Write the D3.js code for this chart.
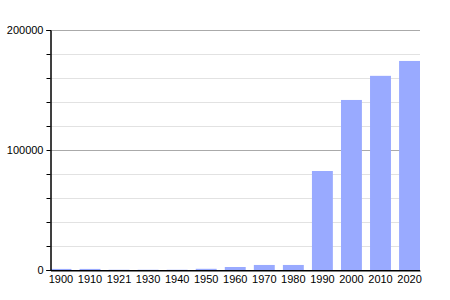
<!DOCTYPE html>
<html>
<head>
<meta charset="utf-8">
<script src="https://cdn.jsdelivr.net/npm/d3@7"></script>
<style>
body { margin: 0; background: #fff; }
svg { font-family: "Liberation Sans", Arial, sans-serif; }
</style>
</head>
<body>
<script>
// population by census year
var years = ["1900", "1910", "1921", "1930", "1940", "1950", "1960", "1970", "1980", "1990", "2000", "2010", "2020"]
var population = [900, 900, 200, 200, 200, 1000, 2500, 4200, 4200, 82500, 141700, 161800, 174200]
var majorTicks = [0, 100000, 200000]
var minorTicks = [20000, 40000, 60000, 80000, 120000, 140000, 160000, 180000]

var svg = d3.select("body").append("svg")
    .attr("width", 450)
    .attr("height", 300)

// plot edges (don't name one "top", that's window.top)
var plotLeft = 50, plotRight = 420, plotTop = 30, plotBottom = 270

var x = d3.scaleBand()
    .domain(years)
    .range([plotLeft + 0.5, plotRight])
    .paddingInner(0.28)
    .paddingOuter(0)

var y = d3.scaleLinear()
    .domain([0, 200000])
    .range([plotBottom, plotTop])

// light gridlines
svg.selectAll("line.minor")
    .data(minorTicks)
    .enter()
    .append("line")
    .attr("class", "minor")
    .attr("x1", plotLeft).attr("x2", plotRight)
    .attr("y1", function(d){ return Math.round(y(d)) + 0.5 })
    .attr("y2", function(d){ return Math.round(y(d)) + 0.5 })
    .attr("stroke", "#e2e2e2")

svg.selectAll("line.major")
    .data(majorTicks.slice(1))
    .enter()
    .append("line")
    .attr("class", "major")
    .attr("x1", plotLeft).attr("x2", plotRight)
    .attr("y1", function(d){ return Math.round(y(d)) + 0.5 })
    .attr("y2", function(d){ return Math.round(y(d)) + 0.5 })
    .attr("stroke", "#aaaaaa")

// bars
svg.selectAll("rect")
    .data(population)
    .enter()
    .append("rect")
    .attr("x", function(d, i){ return x(years[i]) })
    .attr("width", x.bandwidth())
    .attr("y", function(d){ return y(d) })
    .attr("height", function(d){ return plotBottom - y(d) })
    .attr("fill", "#99aaff")

// y axis with minor ticks
var yAxis = d3.axisLeft(y).tickValues(majorTicks).tickSize(4).tickPadding(3).tickFormat(d3.format("d"))
var yMinor = d3.axisLeft(y).tickValues(minorTicks).tickSize(4).tickFormat("")

svg.append("g").attr("transform", "translate(" + (plotLeft + 0.5) + ",0)").call(yMinor)
svg.append("g").attr("transform", "translate(" + (plotLeft + 0.5) + ",0)").call(yAxis)

var xAxis = d3.axisBottom(x).tickSize(0).tickPadding(5)
svg.append("g").attr("transform", "translate(0," + (plotBottom + 0.5) + ")").call(xAxis)

svg.selectAll(".domain").attr("stroke", "#000")
svg.selectAll(".tick line").attr("stroke", "#000")
svg.selectAll(".tick text").attr("font-size", 11).attr("fill", "#000")
    .attr("font-family", "Liberation Sans, Arial, sans-serif")

// baseline runs from the tick stub to the right edge
svg.append("line")
    .attr("x1", plotLeft - 3).attr("x2", plotRight)
    .attr("y1", plotBottom + 0.5).attr("y2", plotBottom + 0.5)
    .attr("stroke", "#000")
</script>
</body>
</html>
